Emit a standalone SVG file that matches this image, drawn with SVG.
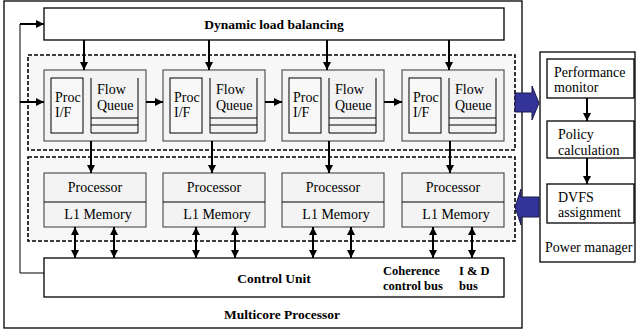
<svg xmlns="http://www.w3.org/2000/svg" width="637" height="333" viewBox="0 0 637 333">
<style>
text{font-family:"Liberation Serif","Times New Roman",serif;font-size:14px;fill:#000}
.b{font-weight:bold;font-size:13.5px}
.bs{font-weight:bold;font-size:12.5px}
.box{fill:#fff;stroke:#000;stroke-width:1.3}
.dash{fill:#f7f7f7;stroke:#000;stroke-width:1.6;stroke-dasharray:4,2}
.mod{fill:#f3f3f3;stroke:#555;stroke-width:1.2}
.in{fill:#f8f8f8;stroke:#000;stroke-width:1}
.ln{stroke:#000;stroke-width:1;fill:none}
.ar{stroke:#000;stroke-width:2;fill:none}
.blk{fill:#333399;stroke:#1a1a4d;stroke-width:1}
.c{text-anchor:middle}
</style>
<defs>
<marker id="ah" viewBox="0 0 10 10" refX="10" refY="5" markerWidth="4.5" markerHeight="4" orient="auto-start-reverse" markerUnits="strokeWidth">
<path d="M0,0 L10,5 L0,10 z" fill="#000"/>
</marker>
</defs>

<g id="multicore">
<rect class="box" x="4" y="1" width="518" height="327"/>
<text class="b c" x="282" y="319">Multicore Processor</text>
</g>

<g id="dlb">
<rect class="box" x="44" y="8" width="460" height="32"/>
<text class="b c" x="274" y="29">Dynamic load balancing</text>
</g>

<g id="flowgroup">
<rect class="dash" x="28" y="55" width="487" height="95"/>
</g>
<g id="procgroup">
<rect class="dash" x="28" y="157" width="487" height="84"/>
</g>

<g id="flow1">
<rect class="mod" x="44" y="70" width="102" height="71"/>
<rect class="in" x="51" y="78" width="32" height="55"/>
<text x="55" y="102">Proc</text><text x="55" y="117">I/F</text>
<path class="ln" d="M91,78 V133 H138 V78 M91,118 H138 M91,125 H138"/>
<text x="97" y="94">Flow</text><text x="97" y="110">Queue</text>
</g>
<g id="flow2">
<rect class="mod" x="163" y="70" width="102" height="71"/>
<rect class="in" x="170" y="78" width="32" height="55"/>
<text x="174" y="102">Proc</text><text x="174" y="117">I/F</text>
<path class="ln" d="M210,78 V133 H257 V78 M210,118 H257 M210,125 H257"/>
<text x="216" y="94">Flow</text><text x="216" y="110">Queue</text>
</g>
<g id="flow3">
<rect class="mod" x="282" y="70" width="102" height="71"/>
<rect class="in" x="289" y="78" width="32" height="55"/>
<text x="293" y="102">Proc</text><text x="293" y="117">I/F</text>
<path class="ln" d="M329,78 V133 H376 V78 M329,118 H376 M329,125 H376"/>
<text x="335" y="94">Flow</text><text x="335" y="110">Queue</text>
</g>
<g id="flow4">
<rect class="mod" x="402" y="70" width="102" height="71"/>
<rect class="in" x="409" y="78" width="32" height="55"/>
<text x="413" y="102">Proc</text><text x="413" y="117">I/F</text>
<path class="ln" d="M449,78 V133 H496 V78 M449,118 H496 M449,125 H496"/>
<text x="455" y="94">Flow</text><text x="455" y="110">Queue</text>
</g>

<g id="proc1">
<rect class="mod" x="44" y="173" width="102" height="54"/>
<line class="ln" x1="44" y1="202" x2="146" y2="202" stroke="#555"/>
<text class="c" x="95" y="192">Processor</text><text class="c" x="98" y="219">L1 Memory</text>
</g>
<g id="proc2">
<rect class="mod" x="163" y="173" width="102" height="54"/>
<line class="ln" x1="163" y1="202" x2="265" y2="202" stroke="#555"/>
<text class="c" x="214" y="192">Processor</text><text class="c" x="217" y="219">L1 Memory</text>
</g>
<g id="proc3">
<rect class="mod" x="282" y="173" width="102" height="54"/>
<line class="ln" x1="282" y1="202" x2="384" y2="202" stroke="#555"/>
<text class="c" x="333" y="192">Processor</text><text class="c" x="336" y="219">L1 Memory</text>
</g>
<g id="proc4">
<rect class="mod" x="402" y="173" width="102" height="54"/>
<line class="ln" x1="402" y1="202" x2="504" y2="202" stroke="#555"/>
<text class="c" x="453" y="192">Processor</text><text class="c" x="456" y="219">L1 Memory</text>
</g>

<g id="control">
<rect class="box" x="44" y="258" width="460" height="39"/>
<text class="b c" x="274" y="283">Control Unit</text>
<text class="bs" x="383" y="275">Coherence</text><text class="bs" x="383" y="290">control bus</text>
<text class="bs" x="459" y="275">I &amp; D</text><text class="bs" x="459" y="290">bus</text>
</g>

<g id="power">
<rect class="box" x="540" y="52" width="95" height="210"/>
<text x="545" y="252">Power manager</text>
</g>
<g id="perf">
<rect class="box" x="547" y="59" width="87" height="39"/>
<text x="554" y="77">Performance</text><text x="554" y="92">monitor</text>
</g>
<g id="policy">
<rect class="box" x="547" y="121" width="87" height="37"/>
<text x="558" y="139">Policy</text><text x="558" y="155">calculation</text>
</g>
<g id="dvfs">
<rect class="box" x="547" y="184" width="87" height="39"/>
<text x="558" y="202">DVFS</text><text x="558" y="217">assignment</text>
</g>

<g id="connectors">
<path class="ln" stroke-width="1.3" d="M44,273 H20 V24"/>
<path class="ar" d="M20,24 H44" marker-end="url(#ah)"/>
<path class="ar" d="M20,102 H44" marker-end="url(#ah)"/>
<path class="ar" d="M146,102 H163" marker-end="url(#ah)"/>
<path class="ar" d="M265,102 H282" marker-end="url(#ah)"/>
<path class="ar" d="M384,102 H402" marker-end="url(#ah)"/>
<path class="ar" d="M84,40 V70" marker-end="url(#ah)"/>
<path class="ar" d="M209,40 V70" marker-end="url(#ah)"/>
<path class="ar" d="M327,40 V70" marker-end="url(#ah)"/>
<path class="ar" d="M449,40 V70" marker-end="url(#ah)"/>
<path class="ar" d="M91,141 V173" marker-end="url(#ah)"/>
<path class="ar" d="M212,141 V173" marker-end="url(#ah)"/>
<path class="ar" d="M329,141 V173" marker-end="url(#ah)"/>
<path class="ar" d="M450,141 V173" marker-end="url(#ah)"/>
<path class="ar" d="M75,227 V258" marker-start="url(#ah)" marker-end="url(#ah)"/>
<path class="ar" d="M114,227 V258" marker-start="url(#ah)" marker-end="url(#ah)"/>
<path class="ar" d="M196,227 V258" marker-start="url(#ah)" marker-end="url(#ah)"/>
<path class="ar" d="M235,227 V258" marker-start="url(#ah)" marker-end="url(#ah)"/>
<path class="ar" d="M313,227 V258" marker-start="url(#ah)" marker-end="url(#ah)"/>
<path class="ar" d="M351,227 V258" marker-start="url(#ah)" marker-end="url(#ah)"/>
<path class="ar" d="M433,227 V258" marker-start="url(#ah)" marker-end="url(#ah)"/>
<path class="ar" d="M472,227 V258" marker-start="url(#ah)" marker-end="url(#ah)"/>
<path class="ar" d="M587,98 V121" marker-end="url(#ah)"/>
<path class="ar" d="M587,158 V184" marker-end="url(#ah)"/>
<polygon class="blk" points="515,93 532,93 532,86 539,103 532,120 532,112 515,112"/>
<polygon class="blk" points="539,197 521,197 521,189 515,207 521,225 521,217 539,217"/>
</g>
</svg>
